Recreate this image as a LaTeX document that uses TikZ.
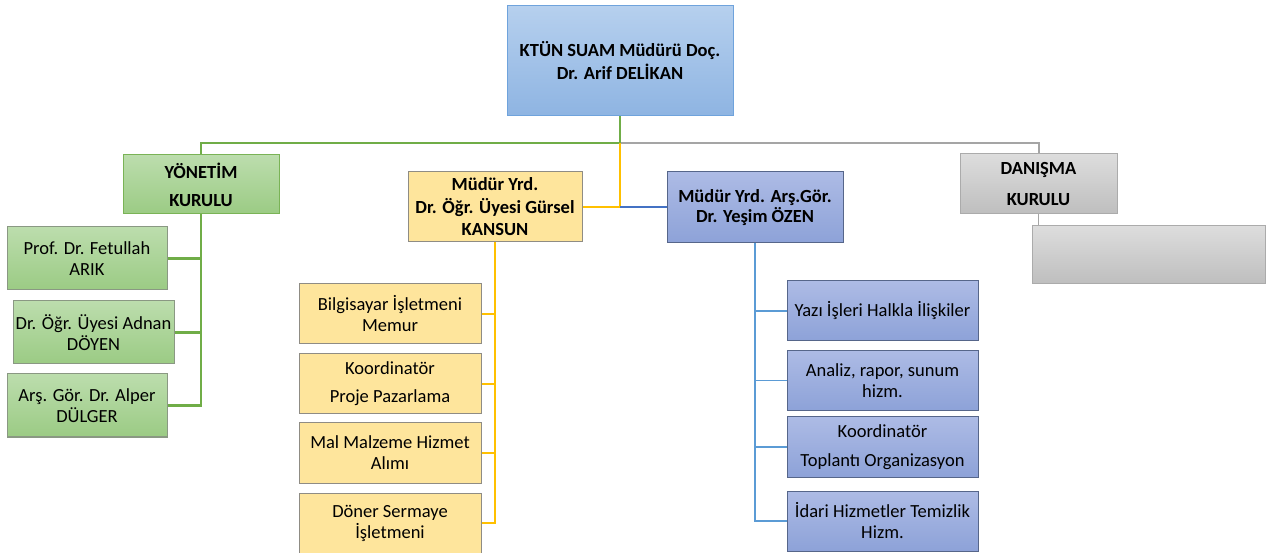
\documentclass[tikz,border=0pt]{standalone}
\usepackage{fontspec}
\setmainfont{Carlito}
\definecolor{topT}{HTML}{B6D0EE}
\definecolor{topB}{HTML}{8EB4E2}
\definecolor{topD}{HTML}{6FA3DC}
\definecolor{grT}{HTML}{BCDDAD}
\definecolor{grB}{HTML}{9BCB84}
\definecolor{grD}{HTML}{7AB356}
\definecolor{grC}{HTML}{8A9883}
\definecolor{yeF}{HTML}{FEE59C}
\definecolor{yeD}{HTML}{8F8C84}
\definecolor{blT}{HTML}{ADBBE5}
\definecolor{blB}{HTML}{8DA2D8}
\definecolor{blD}{HTML}{56668A}
\definecolor{gyT}{HTML}{DDDDDD}
\definecolor{gyB}{HTML}{BEBEBE}
\definecolor{gyD}{HTML}{ABABAB}
\definecolor{lnG}{HTML}{70AD47}
\definecolor{lnY}{HTML}{FFC000}
\definecolor{lnB}{HTML}{4472C4}
\definecolor{lnL}{HTML}{5B9BD5}
\definecolor{lnA}{HTML}{A5A5A5}
\tikzset{
  base/.style={inner sep=0pt, align=center, line width=1pt,
    font=\fontsize{18.5}{21}\selectfont},
  topbox/.style={base, shade, top color=topT, bottom color=topB, draw=topD,
    font=\bfseries\fontsize{18.5}{23}\selectfont},
  grmain/.style={base, shade, top color=grT, bottom color=grB, draw=grD,
    font=\bfseries\fontsize{18.5}{21}\selectfont},
  grbox/.style={base, shade, top color=grT, bottom color=grB, draw=grC},
  yemain/.style={base, fill=yeF, draw=yeD,
    font=\bfseries\fontsize{18.5}{22.5}\selectfont},
  yebox/.style={base, fill=yeF, draw=yeD},
  blmain/.style={base, shade, top color=blT, bottom color=blB, draw=blD,
    font=\bfseries\fontsize{18.5}{20}\selectfont},
  blbox/.style={base, shade, top color=blT, bottom color=blB, draw=blD},
  gymain/.style={base, shade, top color=gyT, bottom color=gyB, draw=gyD,
    font=\bfseries\fontsize{18.5}{21}\selectfont},
  gybox/.style={base, shade, top color=gyT, bottom color=gyB, draw=gyD},
  lineG/.style={draw=lnG, line width=2.3pt},
  lineY/.style={draw=lnY, line width=2pt},
  lineYs/.style={draw=lnY, line width=1.6pt},
  lineB/.style={draw=lnB, line width=2pt},
  lineL/.style={draw=lnL, line width=1.3pt},
  lineA/.style={draw=lnA, line width=2pt},
  lineAs/.style={draw=lnA, line width=1pt},
}
\begin{document}
\begin{tikzpicture}[x={(1pt,0)}, y={(0,-1pt)}]
\useasboundingbox (0,0) rectangle (1270,553);
% top
\node[topbox, minimum width=226, minimum height=110] (top) at (620,61) {KTÜN SUAM Müdürü Doç.\\Dr. Arif DELİKAN};
% green
\node[grmain, minimum width=156, minimum height=59] (gmain) at (201,184.5) {YÖNETİM\\[7pt]KURULU};
\node[grbox, minimum width=160, minimum height=63] (g1) at (87,258.5) {Prof. Dr. Fetullah\\ARIK};
\node[grbox, minimum width=161, minimum height=63] (g2) at (93.5,332.5) {Dr. Öğr. Üyesi Adnan\\DÖYEN};
\node[grbox, minimum width=160, minimum height=63] (g3) at (87,405.5) {Arş. Gör. Dr. Alper\\DÜLGER};
% yellow
\node[yemain, minimum width=174, minimum height=70] (ymain) at (495,207) {Müdür Yrd.\\Dr. Öğr. Üyesi Gürsel\\KANSUN};
\node[yebox, minimum width=182, minimum height=60] (y1) at (390,314) {Bilgisayar İşletmeni\\Memur};
\node[yebox, minimum width=182, minimum height=60] (y2) at (390,384) {Koordinatör\\[7pt]Proje Pazarlama};
\node[yebox, minimum width=182, minimum height=60] (y3) at (390,453) {Mal Malzeme Hizmet\\Alımı};
\node[yebox, minimum width=182, minimum height=60] (y4) at (390,523) {Döner Sermaye\\İşletmeni};
% blue
\node[blmain, minimum width=176, minimum height=71] (bmain) at (755,207.5) {Müdür Yrd. Arş.Gör.\\Dr. Yeşim ÖZEN};
\node[blbox, minimum width=191, minimum height=60] (b1) at (882.5,311) {Yazı İşleri Halkla İlişkiler};
\node[blbox, minimum width=191, minimum height=60] (b2) at (882.5,380.5) {Analiz, rapor, sunum\\hizm.};
\node[blbox, minimum width=191, minimum height=60] (b3) at (882.5,447) {Koordinatör\\[8pt]Toplantı Organizasyon};
\node[blbox, minimum width=191, minimum height=60] (b4) at (882.5,521) {İdari Hizmetler Temizlik\\Hizm.};
% gray
\node[gymain, minimum width=157, minimum height=60] (dmain) at (1038.5,184) {DANIŞMA\\[10pt]KURULU};
\node[gybox, minimum width=233, minimum height=58] (dchild) at (1148.5,255) {};
% connectors
\coordinate (bus) at (620,143);
\draw[lineA] (bus) -| (dmain.north);
\draw[lineG] (top.south) -- (bus) -| (gmain.north);
\draw[lineY] (bus) -- (bus |- ymain.east) -- (ymain.east);
\draw[lineB] (bus |- bmain.west) -- (bmain.west);
% green spine
\draw[lineG] (gmain.south) |- (g3.east);
\draw[lineG] (g1.east) -- (g1.east -| gmain.south);
\draw[lineG] (g2.east) -- (g2.east -| gmain.south);
% yellow spine
\draw[lineYs] (ymain.south) |- (y4.east);
\draw[lineYs] (y1.east) -- (y1.east -| ymain.south);
\draw[lineYs] (y2.east) -- (y2.east -| ymain.south);
\draw[lineYs] (y3.east) -- (y3.east -| ymain.south);
% blue spine
\draw[lineL] (bmain.south) |- (b4.west);
\draw[lineL] (b1.west) -- (b1.west -| bmain.south);
\draw[lineL] (b2.west) -- (b2.west -| bmain.south);
\draw[lineL] (b3.west) -- (b3.west -| bmain.south);
% gray
\draw[lineAs] (dmain.south) -- (dmain.south |- dchild.north);
\end{tikzpicture}
\end{document}
